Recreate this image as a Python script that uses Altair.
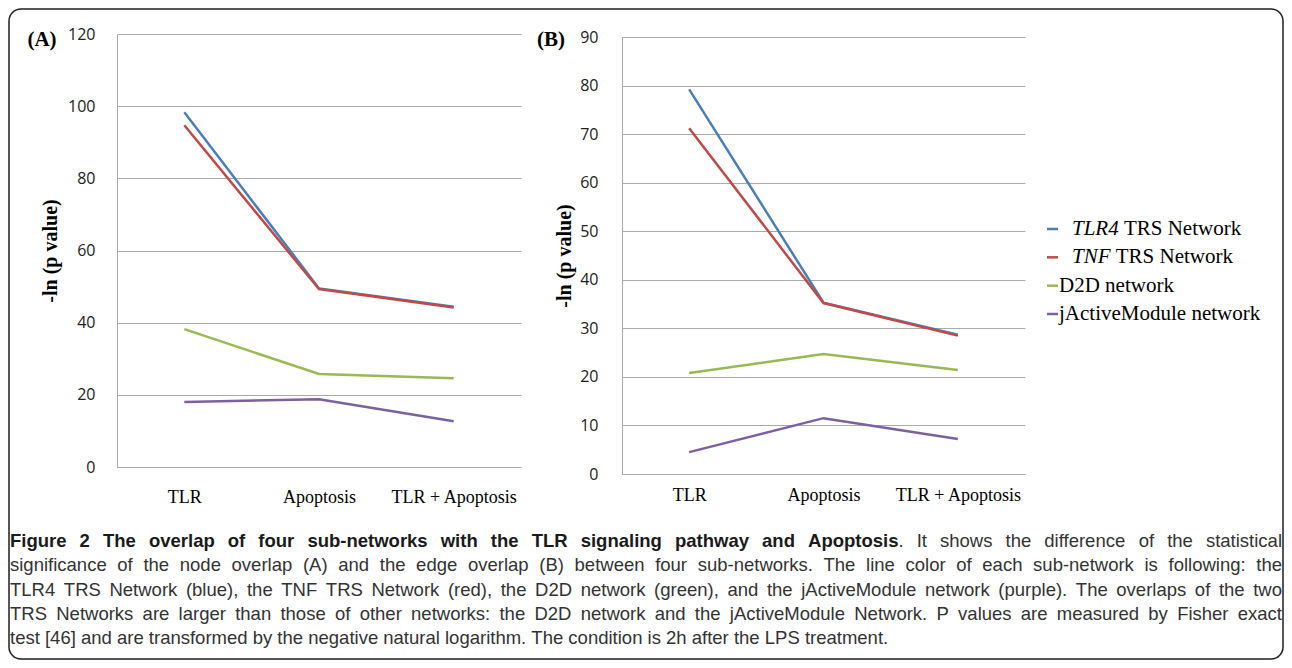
import altair as alt
import pandas as pd

# ---------------- data ----------------
categories = ["TLR", "Apoptosis", "TLR + Apoptosis"]
series = ["TLR4 TRS Network", "TNF TRS Network", "D2D network", "jActiveModule network"]
colors = ["#4A7EBB", "#BE4B48", "#98B954", "#7D60A0"]

node_tlr4 = [98.3, 49.5, 44.4]
node_tnf = [94.7, 49.3, 44.2]
node_d2d = [38.2, 25.8, 24.6]
node_jam = [18.0, 18.8, 12.7]

edge_tlr4 = [79.2, 35.3, 28.7]
edge_tnf = [71.2, 35.2, 28.5]
edge_d2d = [20.8, 24.7, 21.4]
edge_jam = [4.5, 11.5, 7.2]

ticks_a = [0, 20, 40, 60, 80, 100, 120]
ticks_b = [0, 10, 20, 30, 40, 50, 60, 70, 80, 90]

axis_title = "-ln (p value)"
panel_tags = ["(A)", "(B)"]
legend_italic = ["TLR4", "TNF", "", ""]
legend_rest = ["TRS Network", "TRS Network", "D2D network", "jActiveModule network"]

caption_bold = "Figure 2 The overlap of four sub-networks with the TLR signaling pathway and Apoptosis"
caption_lines = [
    ". It shows the difference of the statistical",
    "significance of the node overlap (A) and the edge overlap (B) between four sub-networks. The line color of each sub-network is following: the",
    "TLR4 TRS Network (blue), the TNF TRS Network (red), the D2D network (green), and the jActiveModule network (purple). The overlaps of the two",
    "TRS Networks are larger than those of other networks: the D2D network and the jActiveModule Network. P values are measured by Fisher exact",
    "test [46] and are transformed by the negative natural logarithm. The condition is 2h after the LPS treatment.",
]

# ---------------- layout helpers ----------------
O = 9            # page offset of the view origin (8px margin + 1px padding)
W, H = 1274, 650
GRID = "#ababab"


def vx(p):
    return p - O


def long_df(vals):
    rows = []
    for s, vs in zip(series, vals):
        for c, v in zip(categories, vs):
            rows.append({"series": s, "cat": c, "val": v})
    return pd.DataFrame(rows)


df_a = long_df([node_tlr4, node_tnf, node_d2d, node_jam])
df_b = long_df([edge_tlr4, edge_tnf, edge_d2d, edge_jam])

color_enc = alt.Color("series:N", scale=alt.Scale(domain=series, range=colors), legend=None)


def panel(df, x0, x1, y0, y1, ymax, ticks, ylabpad, xlabpad, title_x):
    return alt.Chart(df).mark_line(strokeWidth=2.5).encode(
        x=alt.X(
            "cat:N", sort=categories,
            scale=alt.Scale(type="point", range=[vx(x0), vx(x1)], padding=0.5),
            axis=alt.Axis(orient="bottom", offset=vx(y0) - H, title=None, ticks=False,
                          labelAngle=0, labelOverlap=False, labelFont="Liberation Serif",
                          labelFontSize=18, labelColor="#000", labelPadding=xlabpad,
                          domainColor=GRID, domainWidth=1, grid=False),
        ),
        y=alt.Y(
            "val:Q",
            scale=alt.Scale(domain=[0, ymax], range=[vx(y0), vx(y1)], nice=False),
            axis=alt.Axis(orient="left", offset=-vx(x0), values=ticks, grid=True,
                          gridColor=GRID, gridWidth=1, ticks=False, domainColor=GRID,
                          domainWidth=1, labelFont="Open Sans", labelFontSize=16,
                          labelColor="#222", labelPadding=ylabpad, title=axis_title,
                          titleFont="Liberation Serif", titleFontSize=20,
                          titleFontWeight="bold", titleColor="#000", titleX=title_x,
                          titleBaseline="middle"),
        ),
        color=color_enc,
    )


panel_a = panel(df_a, 117, 521, 467, 34, 120, ticks_a, 22, 21, 50 - 117)
panel_b = panel(df_b, 622, 1025, 474, 37, 90, ticks_b, 24, 12, 564 - 622)

# ---------------- tags ----------------
tag_layers = []
for tag, (px, py) in zip(panel_tags, [(42, 40), (551, 40)]):
    tag_layers.append(
        alt.Chart(pd.DataFrame({"t": [tag]})).mark_text(
            font="Liberation Serif", fontSize=21, fontWeight="bold", color="#000",
            align="center", baseline="middle",
        ).encode(text="t:N", x=alt.value(vx(px)), y=alt.value(vx(py)))
    )

# ---------------- legend ----------------
TIMES_I = {"T": 556, "L": 556, "R": 611, "N": 667, "F": 611, "4": 500}
LEG_FS = 21
ital_x = 1072
plain_x = 1059
rest_x = []
for it in legend_italic:
    if it:
        w = sum(TIMES_I.get(c, 500) for c in it) / 1000 * LEG_FS
        rest_x.append(vx(ital_x + w + 0.25 * LEG_FS))
    else:
        rest_x.append(vx(plain_x))
df_leg = pd.DataFrame({"series": series, "ital": legend_italic, "rest": legend_rest, "rx": rest_x})
leg_y = alt.Y("series:N", scale=alt.Scale(type="point", domain=series,
                                           range=[vx(229), vx(314)], padding=0), axis=None)

leg_swatch = alt.Chart(df_leg).mark_rule(strokeWidth=2.5).encode(
    x=alt.value(vx(1047)), x2=alt.value(vx(1058)), y=leg_y, color=color_enc)
leg_ital = alt.Chart(df_leg).transform_filter("datum.ital != ''").mark_text(
    font="Liberation Serif", fontSize=LEG_FS, fontStyle="italic", color="#000",
    align="left", baseline="middle",
).encode(text="ital:N", x=alt.value(vx(ital_x)), y=leg_y)
leg_rest = alt.Chart(df_leg).mark_text(
    font="Liberation Serif", fontSize=LEG_FS, color="#000", align="left", baseline="middle",
).encode(text="rest:N", x=alt.X("rx:Q", scale=None), y=leg_y)

# ---------------- caption (justified word layout) ----------------
SANS = dict(zip("abcdefghijklmnopqrstuvwxyz",
                [556, 556, 500, 556, 556, 278, 556, 556, 222, 222, 500, 222, 833, 556, 556, 556,
                 556, 333, 500, 278, 556, 500, 722, 500, 500, 500]))
SANS.update(zip("ABCDEFGHIJKLMNOPQRSTUVWXYZ",
                [667, 667, 722, 722, 667, 611, 778, 722, 278, 500, 667, 556, 833, 722, 778, 667,
                 778, 722, 667, 611, 722, 667, 944, 667, 667, 611]))
SANS.update({c: 556 for c in "0123456789"})
SANS.update({" ": 278, "(": 333, ")": 333, ",": 278, ".": 278, ":": 278, "[": 278, "]": 278, "-": 333})
SANS_B = dict(zip("abcdefghijklmnopqrstuvwxyz",
                  [556, 611, 556, 611, 556, 333, 611, 611, 278, 278, 556, 278, 889, 611, 611, 611,
                   611, 389, 556, 333, 611, 556, 778, 556, 556, 500]))
SANS_B.update(zip("ABCDEFGHIJKLMNOPQRSTUVWXYZ",
                  [722, 722, 722, 722, 667, 611, 778, 722, 278, 556, 722, 611, 833, 722, 778, 667,
                   778, 722, 667, 611, 722, 667, 944, 667, 667, 611]))
SANS_B.update({c: 556 for c in "0123456789"})
SANS_B.update({" ": 278, "(": 333, ")": 333, ",": 278, ".": 278, ":": 333, "-": 333})

CAP_FS = 18.5
CAP_L, CAP_R = 10, 1282
CAP_Y0, CAP_DY = 541, 24.25


def tw(word, bold):
    table = SANS_B if bold else SANS
    return sum(table.get(c, 556) for c in word) / 1000 * CAP_FS


segments_per_line = [[(caption_bold, True), (caption_lines[0], False)]] + \
    [[(t, False)] for t in caption_lines[1:]]
cap_rows = []
for i, segs in enumerate(segments_per_line):
    words = []
    for text, bold in segs:
        for j, w in enumerate(text.split(" ")):
            if not w:
                continue
            glue = j == 0 and bool(words) and not text.startswith(" ")
            words.append((w, bold, glue))
    widths = [tw(w, b) for w, b, g in words]
    n_gaps = sum(1 for k, (w, b, g) in enumerate(words) if k > 0 and not g)
    justify = i < len(segments_per_line) - 1
    gap = (CAP_R - CAP_L - sum(widths)) / n_gaps if justify else SANS[" "] / 1000 * CAP_FS
    x = CAP_L
    for k, ((w, b, g), wd) in enumerate(zip(words, widths)):
        if k > 0 and not g:
            x += gap
        cap_rows.append({"word": w, "bold": b, "px": vx(x), "py": vx(CAP_Y0 + i * CAP_DY)})
        x += wd
df_cap = pd.DataFrame(cap_rows)

cap_bold = alt.Chart(df_cap[df_cap.bold]).mark_text(
    font="Liberation Sans", fontSize=CAP_FS, fontWeight="bold", color="#1a1a1a",
    align="left", baseline="middle",
).encode(text="word:N", x=alt.X("px:Q", scale=None), y=alt.Y("py:Q", scale=None))
cap_reg = alt.Chart(df_cap[~df_cap.bold]).mark_text(
    font="Liberation Sans", fontSize=CAP_FS, color="#333333",
    align="left", baseline="middle",
).encode(text="word:N", x=alt.X("px:Q", scale=None), y=alt.Y("py:Q", scale=None))

chart = alt.layer(
    panel_a, panel_b, leg_swatch, leg_ital, leg_rest, *tag_layers, cap_bold, cap_reg
).resolve_scale(
    x="independent", y="independent"
).properties(
    width=W, height=H, padding=1, autosize=alt.AutoSizeParams(type="none"),
    background="white",
).configure_view(
    stroke="#1f1f1f", strokeWidth=1.5, cornerRadius=12, fill="white",
)

chart.save("out.html", embed_options={"renderer": "svg", "actions": False})
